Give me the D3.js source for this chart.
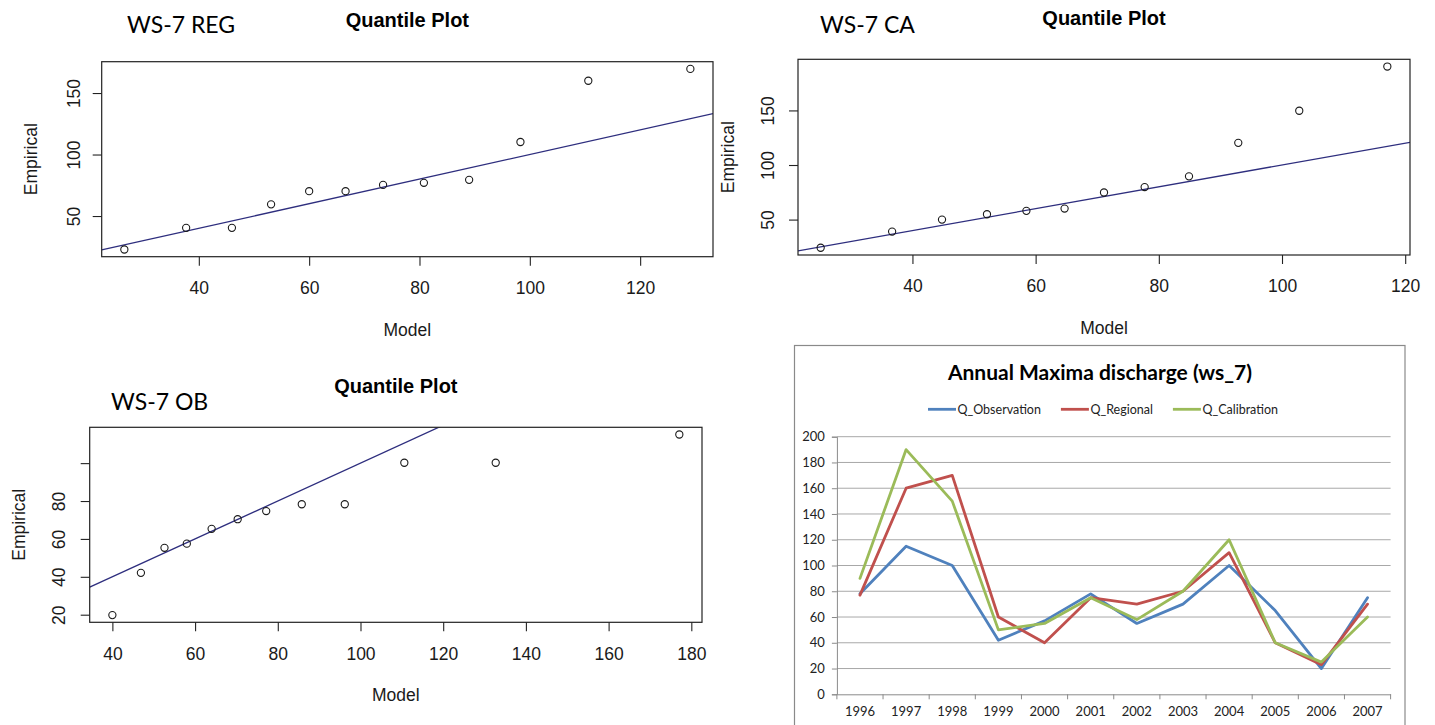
<!DOCTYPE html>
<html>
<head>
<meta charset="utf-8">
<script src="https://cdn.jsdelivr.net/npm/d3@7"></script>
<style>
  html, body { margin: 0; padding: 0; background: #fff; }
  svg { display: block; }
</style>
</head>
<body>
<svg id="chart" width="1435" height="725"></svg>
<script>
// ---------------- DATA ----------------
// Quantile plot WS-7 REG
const regModel = [26.5, 37.7, 46.0, 53.1, 60.0, 66.6, 73.4, 80.8, 89.0, 98.3, 110.6, 129.1];
const regEmpirical = [22.8, 40.4, 40.4, 59.5, 70.2, 70.2, 75.3, 77.0, 79.4, 110.2, 160.0, 169.6];
// Quantile plot WS-7 CA
const caModel = [25.1, 36.7, 44.8, 52.1, 58.5, 64.7, 71.1, 77.7, 84.9, 92.9, 102.8, 117.1];
const caEmpirical = [24.2, 39.0, 50.0, 54.9, 58.0, 60.1, 74.8, 79.8, 89.6, 120.3, 149.7, 190.2];
// Quantile plot WS-7 OB
const obModel = [40.0, 46.9, 52.6, 58.0, 64.0, 70.3, 77.2, 85.8, 96.2, 110.6, 132.7, 177.1];
const obEmpirical = [19.8, 42.1, 55.3, 57.5, 65.3, 70.4, 74.7, 78.3, 78.3, 100.2, 100.2, 115.1];
// reference line y = a + b x
const refIntercept = 0;
const refSlope = 1;
// tick values
const regXTicks = [40, 60, 80, 100, 120];
const regYTicks = [50, 100, 150];
const caXTicks = [40, 60, 80, 100, 120];
const caYTicks = [50, 100, 150];
const obXTicks = [40, 60, 80, 100, 120, 140, 160, 180];
const obYTicks = [20, 40, 60, 80, 100];
const obYTickLabels = ["20", "40", "60", "80", ""];

// Annual maxima line chart
const years = ["1996","1997","1998","1999","2000","2001","2002","2003","2004","2005","2006","2007"];
const qObservation = [78, 115, 100, 42, 57, 78, 55, 70, 100, 65, 20, 75];
const qRegional    = [77, 160, 170, 60, 40, 75, 70, 80, 110, 40, 23, 70];
const qCalibration = [90, 190, 150, 50, 55, 75, 58, 80, 120, 40, 25, 60];
const seriesNames = ["Q_Observation", "Q_Regional", "Q_Calibration"];
const seriesColors = ["#4F81BD", "#C0504D", "#9BBB59"];
const lineYTicks = [0, 20, 40, 60, 80, 100, 120, 140, 160, 180, 200];

// ---------------- DRAW ----------------
const svg = d3.select("#chart");
svg.append("rect").attr("width", 1435).attr("height", 725).attr("fill", "#fff");

const rFont = "'Liberation Sans', Arial, Helvetica, sans-serif";
const calFont = "Lato, 'Open Sans', sans-serif";
const ink = "#1a1a1a";

function rExtent(arr) {
  const [lo, hi] = d3.extent(arr);
  const pad = (hi - lo) * 0.04;
  return [lo - pad, hi + pad];
}

function qqPanel(opt) {
  const { id, box, xs, ys, xTicks, yTicks, yLabels, tag, tagPos, yLabOff } = opt;
  const g = svg.append("g");
  const x = d3.scaleLinear().domain(rExtent(xs)).range([box.x0, box.x1]);
  const y = d3.scaleLinear().domain(rExtent(ys)).range([box.y1, box.y0]);

  // clip
  svg.append("clipPath").attr("id", "clip" + id)
    .append("rect").attr("x", box.x0).attr("y", box.y0)
    .attr("width", box.x1 - box.x0).attr("height", box.y1 - box.y0);

  // reference line
  const [dx0, dx1] = x.domain();
  g.append("line")
    .attr("clip-path", `url(#clip${id})`)
    .attr("x1", x(dx0)).attr("y1", y(refIntercept + refSlope * dx0))
    .attr("x2", x(dx1)).attr("y2", y(refIntercept + refSlope * dx1))
    .attr("stroke", "#2e2e7e").attr("stroke-width", 1.3);

  // points
  g.selectAll("circle.pt").data(xs.map((v, i) => [v, ys[i]])).join("circle")
    .attr("class", "pt")
    .attr("cx", d => x(d[0])).attr("cy", d => y(d[1])).attr("r", 3.6)
    .attr("fill", "none").attr("stroke", ink).attr("stroke-width", 1.1);

  // box
  g.append("rect").attr("x", box.x0).attr("y", box.y0)
    .attr("width", box.x1 - box.x0).attr("height", box.y1 - box.y0)
    .attr("fill", "none").attr("stroke", "#222").attr("stroke-width", 1.2);

  // x axis
  const xa = g.append("g").attr("transform", `translate(0,${box.y1})`)
    .call(d3.axisBottom(x).tickValues(xTicks).tickSize(9).tickFormat(d3.format("d")));
  xa.select(".domain").remove();
  xa.selectAll("line").attr("stroke", "#222").attr("stroke-width", 1.1);
  xa.selectAll("text").attr("y", 25).attr("dy", "0.71em")
    .attr("font-family", rFont).attr("font-size", 17.5).attr("fill", ink);

  // y axis
  const ya = g.append("g").attr("transform", `translate(${box.x0},0)`)
    .call(d3.axisLeft(y).tickValues(yTicks).tickSize(9)
      .tickFormat((d, i) => yLabels ? yLabels[i] : d3.format("d")(d)));
  ya.select(".domain").remove();
  ya.selectAll("line").attr("stroke", "#222").attr("stroke-width", 1.1);
  ya.selectAll("text")
    .attr("x", null).attr("dy", "0.35em")
    .attr("transform", `translate(${-yLabOff},0) rotate(-90)`)
    .attr("text-anchor", "middle")
    .attr("font-family", rFont).attr("font-size", 17.5).attr("fill", ink);

  // axis titles
  g.append("text").attr("x", (box.x0 + box.x1) / 2).attr("y", box.y1 + 79)
    .attr("text-anchor", "middle").attr("font-family", rFont).attr("font-size", 17.5)
    .attr("fill", ink).text("Model");
  g.append("text")
    .attr("transform", `translate(${box.x0 - 70.5},${(box.y0 + box.y1) / 2}) rotate(-90)`)
    .attr("dy", "0.35em")
    .attr("text-anchor", "middle").attr("font-family", rFont).attr("font-size", 17.5)
    .attr("fill", ink).text("Empirical");
  // main title
  g.append("text").attr("x", (box.x0 + box.x1) / 2).attr("y", box.y0 - 34.5)
    .attr("text-anchor", "middle").attr("font-family", rFont).attr("font-weight", "bold")
    .attr("font-size", 20).attr("fill", "#000").text("Quantile Plot");
  // tag
  g.append("text").attr("x", tagPos[0]).attr("y", tagPos[1])
    .attr("font-family", calFont).attr("font-size", 23).attr("fill", "#000").text(tag);
}

qqPanel({ id: 1, box: { x0: 101.7, x1: 713, y0: 61.7, y1: 256.7 },
  xs: regModel, ys: regEmpirical, xTicks: regXTicks, yTicks: regYTicks,
  tag: "WS-7 REG", tagPos: [127, 33.3], yLabOff: 28 });
qqPanel({ id: 2, box: { x0: 798, x1: 1410, y0: 59.3, y1: 255 },
  xs: caModel, ys: caEmpirical, xTicks: caXTicks, yTicks: caYTicks,
  tag: "WS-7 CA", tagPos: [820, 33], yLabOff: 30 });
qqPanel({ id: 3, box: { x0: 89.7, x1: 702, y0: 427.3, y1: 622.3 },
  xs: obModel, ys: obEmpirical, xTicks: obXTicks, yTicks: obYTicks, yLabels: obYTickLabels,
  tag: "WS-7 OB", tagPos: [111, 410], yLabOff: 31 });

// ---------- Excel-style line chart ----------
(function () {
  const g = svg.append("g");
  const area = { x0: 836.9, x1: 1390.6, y0: 436.7, y1: 694.3 };
  const textCol = "#222";
  // chart border
  g.append("rect").attr("x", 794.5).attr("y", 345.5).attr("width", 610.5).attr("height", 400)
    .attr("fill", "#fff").attr("stroke", "#8a8a8a").attr("stroke-width", 1.2);

  const x = d3.scaleBand().domain(years).range([area.x0, area.x1]);
  const y = d3.scaleLinear().domain([0, 200]).range([area.y1, area.y0]);

  // gridlines
  g.selectAll("line.grid").data(lineYTicks.filter(d => d > 0)).join("line")
    .attr("class", "grid")
    .attr("x1", area.x0).attr("x2", area.x1)
    .attr("y1", d => y(d)).attr("y2", d => y(d))
    .attr("stroke", "#a8a8a8").attr("stroke-width", 1);

  // y axis
  const ya = g.append("g").attr("transform", `translate(${area.x0},0)`)
    .call(d3.axisLeft(y).tickValues(lineYTicks).tickSize(5).tickPadding(7));
  ya.select(".domain").attr("stroke", "#8a8a8a");
  ya.selectAll("line").attr("stroke", "#8a8a8a");
  ya.selectAll("text").attr("font-family", calFont).attr("font-size", 13).attr("fill", textCol);

  // x axis
  const xa = g.append("g").attr("transform", `translate(0,${area.y1})`)
    .call(d3.axisBottom(x).tickSize(0).tickPadding(12));
  xa.select(".domain").attr("stroke", "#8a8a8a");
  xa.selectAll("text").attr("font-family", calFont).attr("font-size", 13).attr("fill", textCol);
  // category boundary ticks
  const bounds = years.map(d => x(d)).concat([x(years[years.length - 1]) + x.bandwidth()]);
  g.selectAll("line.xb").data(bounds).join("line").attr("class", "xb")
    .attr("x1", d => d).attr("x2", d => d)
    .attr("y1", area.y1).attr("y2", area.y1 + 5)
    .attr("stroke", "#8a8a8a");

  // lines
  const allSeries = [qObservation, qRegional, qCalibration];
  const line = d3.line().x((d, i) => x(years[i]) + x.bandwidth() / 2).y(d => y(d));
  allSeries.forEach((s, k) => {
    g.append("path").datum(s).attr("d", line)
      .attr("fill", "none").attr("stroke", seriesColors[k]).attr("stroke-width", 2.8)
      .attr("stroke-linejoin", "round").attr("stroke-linecap", "round");
  });

  // title
  g.append("text").attr("x", 1100).attr("y", 380).attr("text-anchor", "middle")
    .attr("font-family", calFont).attr("font-weight", "bold").attr("font-size", 21)
    .attr("fill", "#000").text("Annual Maxima discharge (ws_7)");

  // legend
  const lg = g.append("g");
  let cx = 0;
  const items = [];
  seriesNames.forEach((name, k) => {
    const it = lg.append("g");
    it.append("line").attr("x1", 0).attr("x2", 28).attr("y1", 0).attr("y2", 0)
      .attr("stroke", seriesColors[k]).attr("stroke-width", 2.8);
    const t = it.append("text").attr("x", 29.5).attr("y", 0).attr("dy", "0.35em")
      .attr("font-family", calFont).attr("font-size", 12.5).attr("fill", textCol).text(name);
    const w = 29.5 + t.node().getComputedTextLength();
    it.attr("transform", `translate(${cx},0)`);
    cx += w + 20;
  });
  const totalW = cx - 20;
  lg.attr("transform", `translate(${1103 - totalW / 2},409.3)`);
})();
</script>
</body>
</html>
